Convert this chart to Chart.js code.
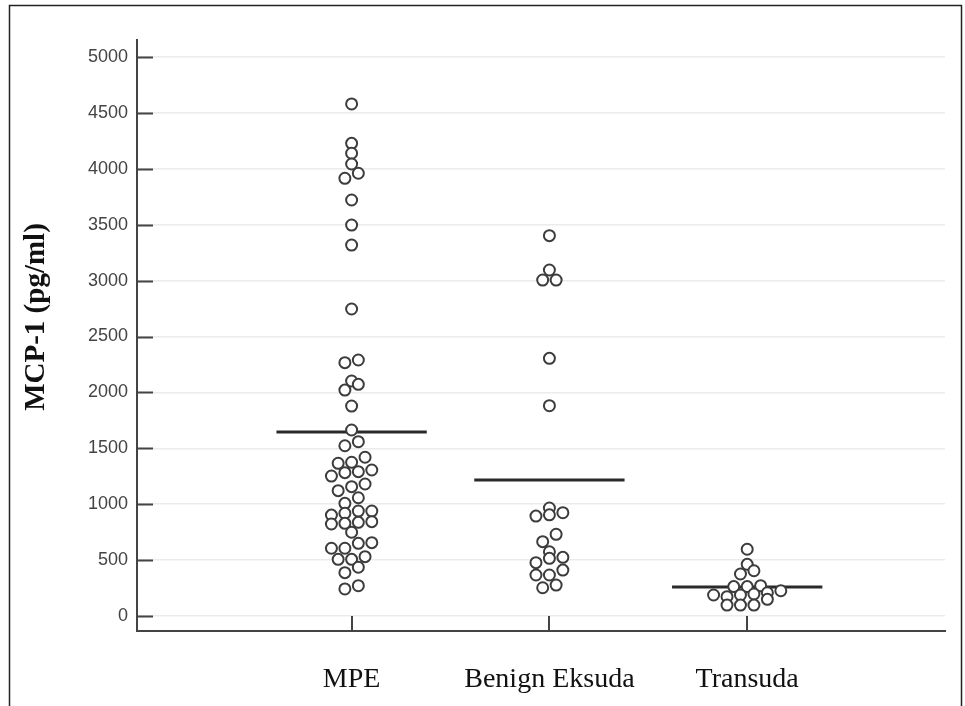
<!DOCTYPE html>
<html>
<head>
<meta charset="utf-8">
<title>MCP-1 (pg/ml)</title>
<script src="https://cdn.jsdelivr.net/npm/chart.js@4.4.0/dist/chart.umd.min.js"></script>
<style>
  html, body { margin: 0; padding: 0; background: #fff; }
  #wrap { width: 965px; height: 706px; position: relative; }
</style>
</head>
<body>
<div id="wrap"><canvas id="chart" width="965" height="706"></canvas></div>
<script>
// ===== DATA =====
const categories = ['MPE', 'Benign Eksuda', 'Transuda'];
const yTicks = [0, 500, 1000, 1500, 2000, 2500, 3000, 3500, 4000, 4500, 5000];
const yTitle = 'MCP-1 (pg/ml)';

// values; *Cols = swarm column of each dot (0 = centre)
const mpeValues = [4580, 4228, 4139, 4043, 3960, 3915, 3721, 3497, 3318, 2746,
  2290, 2266, 2102, 2072, 2021, 1878, 1664, 1559, 1523, 1420,
  1375, 1366, 1306, 1291, 1282, 1252, 1181, 1157, 1121, 1058,
  1008, 939, 939, 919, 903, 844, 838, 829, 823, 749,
  656, 650, 606, 606, 531, 507, 507, 436, 388, 271, 242];
const mpeCols = [0, 0, 0, 0, 1, -1, 0, 0, 0, 0,
  1, -1, 0, 1, -1, 0, 0, 1, -1, 2,
  0, -2, 3, 1, -1, -3, 2, 0, -2, 1,
  -1, 1, 3, -1, -3, 3, 1, -1, -3, 0,
  3, 1, -3, -1, 2, 0, -2, 1, -1, 1, -1];

const benignValues = [3402, 3095, 3005, 3005, 2305, 1881, 966, 924, 905, 894,
  731, 665, 575, 525, 516, 477, 411, 367, 367, 277, 253];
const benignCols = [0, 0, -1, 1, 0, 0, 0, 2, 0, -2,
  1, -1, 0, 2, 0, -2, 2, -2, 0, 1, -1];

const transudaValues = [597, 462, 405, 376, 271, 263, 263, 226, 208, 197,
  188, 188, 173, 149, 98, 98, 98];
const transudaCols = [0, 0, 1, -1, 2, 0, -2, 5, 3, 1,
  -1, -5, -3, 3, 1, -1, -3];

const medians = [1646, 1216, 259];

// ===== STYLE =====
const colStep = 0.034;        // x units per swarm column
const medianHalf = 0.38;      // half length of median bar, x units
const inkAxis = '#444';
const inkDot = '#3c3c3c';

function swarm(values, cols, idx) {
  return values.map((v, i) => ({ x: idx + 1 + cols[i] * colStep, y: v }));
}

const groups = [
  [mpeValues, mpeCols],
  [benignValues, benignCols],
  [transudaValues, transudaCols]
];

const datasets = [];
groups.forEach((g, i) => {
  datasets.push({
    label: categories[i],
    data: swarm(g[0], g[1], i),
    pointStyle: 'circle',
    pointRadius: 5.5,
    pointBorderWidth: 2,
    pointBorderColor: inkDot,
    pointBackgroundColor: '#fff',
    order: 0
  });
});
medians.forEach((m, i) => {
  datasets.push({
    label: categories[i] + ' median',
    data: [{ x: i + 1 - medianHalf, y: m }, { x: i + 1 + medianHalf, y: m }],
    showLine: true,
    borderColor: '#2a2a2a',
    borderWidth: 3,
    pointRadius: 0,
    order: 1
  });
});

// ===== PLUGINS =====
const framePlugin = {
  id: 'frame',
  afterDraw(chart) {
    const ctx = chart.ctx;
    ctx.save();
    ctx.strokeStyle = '#222';
    ctx.lineWidth = 1.5;
    ctx.strokeRect(9.5, 5.5, 952, 730);
    ctx.restore();
  }
};

// tick marks point inwards, so draw them ourselves
const innerTicks = {
  id: 'innerTicks',
  beforeDatasetsDraw(chart) {
    const { ctx, scales: { x, y }, chartArea } = chart;
    ctx.save();
    ctx.strokeStyle = inkAxis;
    ctx.lineWidth = 2;
    ctx.beginPath();
    y.ticks.forEach(t => {
      const py = Math.round(y.getPixelForValue(t.value)) + 0.5;
      ctx.moveTo(chartArea.left, py);
      ctx.lineTo(chartArea.left + 16, py);
    });
    x.ticks.forEach(t => {
      const px = Math.round(x.getPixelForValue(t.value));
      ctx.moveTo(px, chartArea.bottom);
      ctx.lineTo(px, chartArea.bottom - 15);
    });
    ctx.stroke();
    ctx.restore();
  }
};

const yTitlePlugin = {
  id: 'yTitle',
  afterDraw(chart) {
    const ctx = chart.ctx;
    ctx.save();
    ctx.translate(37, 317);
    ctx.rotate(-Math.PI / 2);
    ctx.font = 'bold 29px "Liberation Serif", "Times New Roman", serif';
    ctx.fillStyle = '#111';
    ctx.textAlign = 'center';
    ctx.textBaseline = 'middle';
    ctx.fillText(yTitle, 0, 0);
    ctx.restore();
  }
};

// ===== CHART =====
new Chart(document.getElementById('chart'), {
  type: 'scatter',
  data: { datasets },
  options: {
    responsive: false,
    animation: false,
    devicePixelRatio: 1,
    layout: { padding: { top: 40, right: 20, left: 0, bottom: 0 } },
    plugins: {
      legend: { display: false },
      tooltip: { enabled: false }
    },
    scales: {
      x: {
        type: 'linear',
        min: -0.085,
        max: 4,
        afterBuildTicks: s => { s.ticks = categories.map((_, i) => ({ value: i + 1 })); },
        afterFit: s => { s.height = 75; },
        ticks: {
          callback: v => categories[v - 1],
          autoSkip: false,
          maxRotation: 0,
          padding: 32,
          color: '#111',
          font: { family: '"Liberation Serif", "Times New Roman", serif', size: 28 }
        },
        grid: { display: false, drawTicks: false },
        border: { display: true, color: inkAxis, width: 2 }
      },
      y: {
        min: -134,
        max: 5152,
        afterBuildTicks: s => { s.ticks = yTicks.map(v => ({ value: v })); },
        afterFit: s => { s.width = 137; },
        ticks: {
          callback: v => String(v),
          padding: 9,
          color: '#444',
          font: { family: '"Liberation Sans", Arial, sans-serif', size: 18 }
        },
        grid: { color: '#ebebeb', lineWidth: 1.5, drawTicks: false },
        border: { display: true, color: inkAxis, width: 2 }
      }
    }
  },
  plugins: [innerTicks, yTitlePlugin, framePlugin]
});
</script>
</body>
</html>
